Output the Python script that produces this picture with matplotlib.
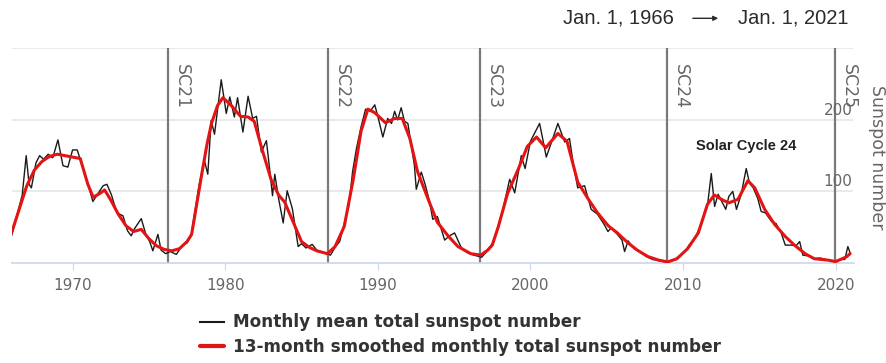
import matplotlib.pyplot as plt

# monthly mean total sunspot number
mean_years = [1966.0, 1966.4, 1966.7, 1966.96, 1967.15, 1967.3, 1967.6, 1967.84, 1968.1, 1968.4,
              1968.7, 1969.04, 1969.37, 1969.69, 1970.0, 1970.3, 1970.67, 1970.9, 1971.33, 1971.6,
              1972.0, 1972.25, 1972.55, 1972.9, 1973.3, 1973.6, 1973.84, 1974.06, 1974.5, 1974.8,
              1975.05, 1975.26, 1975.59, 1975.8, 1976.1, 1976.4, 1976.8, 1977.2, 1977.5, 1977.77,
              1978.0, 1978.3, 1978.64, 1978.86, 1979.08, 1979.3, 1979.74, 1980.07, 1980.3, 1980.6,
              1980.81, 1981.16, 1981.5, 1981.8, 1982.05, 1982.37, 1982.7, 1982.95, 1983.1, 1983.25,
              1983.5, 1983.8, 1984.06, 1984.4, 1984.78, 1985.0, 1985.3, 1985.7, 1986.0, 1986.4,
              1986.9, 1987.2, 1987.5, 1987.8, 1988.1, 1988.35, 1988.6, 1988.9, 1989.2, 1989.5,
              1989.8, 1990.0, 1990.33, 1990.65, 1990.9, 1991.1, 1991.3, 1991.53, 1991.75, 1991.97,
              1992.4, 1992.52, 1992.85, 1993.1, 1993.4, 1993.6, 1993.9, 1994.38, 1994.7, 1995.03,
              1995.5, 1995.9, 1996.3, 1996.8, 1997.1, 1997.5, 1997.8, 1998.2, 1998.64, 1998.97,
              1999.4, 1999.65, 2000.0, 2000.6, 2000.8, 2001.04, 2001.4, 2001.8, 2002.25, 2002.56,
              2002.8, 2003.1, 2003.55, 2003.98, 2004.4, 2004.8, 2005.08, 2005.3, 2005.7, 2006.0,
              2006.17, 2006.4, 2006.8, 2007.2, 2007.6, 2008.0, 2008.5, 2009.0, 2009.5, 2009.9,
              2010.2, 2010.4, 2010.8, 2011.2, 2011.6, 2011.85, 2012.07, 2012.3, 2012.8, 2013.0,
              2013.26, 2013.5, 2013.8, 2014.14, 2014.35, 2014.6, 2014.9, 2015.12, 2015.4, 2015.8,
              2016.1, 2016.43, 2016.7, 2017.1, 2017.4, 2017.64, 2017.85, 2018.2, 2018.6, 2019.0,
              2019.5, 2019.9, 2020.3, 2020.6, 2020.8, 2020.95]
mean_values = [38, 70, 95, 150, 110, 105, 140, 150, 145, 152,
               147, 172, 136, 134, 158, 158, 134, 118, 86, 95,
               108, 110, 95, 70, 66, 45, 38, 48, 62, 40,
               30, 17, 40, 18, 13, 16, 12, 25, 28, 38,
               70, 110, 143, 124, 199, 180, 256, 209, 232, 204,
               231, 183, 233, 202, 205, 155, 171, 124, 94, 124,
               90, 56, 101, 76, 23, 27, 21, 26, 18, 15,
               11, 22, 30, 55, 80, 128, 160, 190, 215, 212,
               221, 205, 176, 202, 195, 212, 200, 217, 198, 195,
               136, 103, 127, 110, 85, 61, 65, 32, 38, 42,
               20, 14, 11, 8, 15, 27, 45, 75, 117, 98,
               150, 132, 170, 195, 174, 148, 170, 195, 169, 174,
               140, 105, 108, 75, 68, 55, 44, 49, 40, 32,
               16, 31, 20, 15, 9, 5, 3, 1, 5, 12,
               18, 25, 35, 55, 80, 125, 79, 96, 75, 93,
               100, 75, 95, 132, 112, 105, 90, 72, 70, 58,
               55, 42, 25, 25, 24, 30, 11, 10, 6, 7,
               4, 2, 5, 5, 23, 14]

# 13-month smoothed monthly total sunspot number
smooth_years = [1966.0, 1966.5, 1967.0, 1967.5, 1968.0, 1968.5, 1969.0, 1969.5, 1970.0, 1970.5,
                1970.75, 1971.0, 1971.35, 1971.7, 1972.1, 1972.5, 1973.0, 1973.5, 1974.0, 1974.5,
                1975.0, 1975.5, 1976.0, 1976.5, 1977.0, 1977.5, 1977.8, 1978.0, 1978.43, 1978.8,
                1979.1, 1979.5, 1979.85, 1980.4, 1981.0, 1981.5, 1981.9, 1982.4, 1983.0, 1983.5,
                1983.9, 1984.4, 1985.0, 1985.5, 1986.0, 1986.7, 1987.2, 1987.8, 1988.4, 1988.9,
                1989.35, 1989.8, 1990.5, 1991.1, 1991.6, 1992.1, 1992.6, 1993.3, 1993.9, 1994.6,
                1995.25, 1996.1, 1996.75, 1997.2, 1997.5, 1997.9, 1998.5, 1999.2, 1999.8, 2000.4,
                2001.0, 2001.8, 2002.4, 2003.1, 2003.8, 2004.4, 2005.1, 2005.7, 2006.4, 2007.0,
                2007.7, 2008.4, 2009.0, 2009.6, 2010.3, 2011.0, 2011.6, 2012.05, 2012.6, 2013.0,
                2013.6, 2014.25, 2014.7, 2015.35, 2016.0, 2016.7, 2017.3, 2018.0, 2018.6, 2019.5,
                2020.0, 2020.7, 2020.95]
smooth_values = [42, 75, 108, 130, 142, 149, 152, 150, 148, 146,
                 128, 110, 92, 96, 102, 88, 68, 52, 44, 47,
                 34, 24, 19, 17, 20, 30, 40, 65, 120, 165,
                 195, 220, 231, 220, 205, 204, 198, 160, 117, 95,
                 85, 60, 30, 22, 17, 13, 23, 51, 118, 184,
                 215, 210, 196, 202, 202, 174, 128, 89, 57, 38,
                 23, 13, 11, 18, 25, 51, 97, 131, 163, 176,
                 161, 181, 170, 113, 89, 70, 52, 42, 28, 18,
                 9, 4, 1.5, 6, 20, 42, 82, 95, 88, 84,
                 89, 115, 105, 75, 54, 37, 25, 13, 6, 4,
                 2, 8.5, 13]

cycle_names = ["SC21", "SC22", "SC23", "SC24", "SC25"]
cycle_starts = [1976.22, 1986.72, 1996.70, 2008.96, 2019.96]
year_ticks = [1970, 1980, 1990, 2000, 2010, 2020]
value_ticks = [100, 200]

W, H = 887, 363
fig = plt.figure(figsize=(W / 100, H / 100), dpi=100)
ax = fig.add_axes([12 / W, 1 - 263 / H, (853.5 - 12) / W, (263 - 48.3) / H])
ax.set_xlim(1966.03, 2021.17)
ax.set_ylim(0, 300)

# grid
for v in [100, 200, 300]:
    ax.axhline(v, color='#e6e6e6', lw=1.2, zorder=0)
for s in ['top', 'right', 'left']:
    ax.spines[s].set_visible(False)
ax.spines['bottom'].set_color('#ccd6eb')
ax.spines['bottom'].set_linewidth(1.2)

ax.set_xticks(year_ticks)
ax.set_xticklabels([str(y) for y in year_ticks])
ax.tick_params(axis='x', colors='#ccd6eb', labelcolor='#666666', labelsize=11, length=5, pad=6)
ax.set_yticks([])

# y labels sit inside the plot just above gridlines
for v in value_ticks:
    ax.annotate(str(v), xy=(1, v), xycoords=ax.get_yaxis_transform(),
                xytext=(-1, 2), textcoords='offset pixels', ha='right', va='bottom',
                color='#666666', fontsize=11, zorder=5)

# cycle start lines
for name, x in zip(cycle_names, cycle_starts):
    ax.axvline(x, color='#7a7a7a', lw=1.6, zorder=2)
    ax.annotate(name, xy=(x, 300), xycoords='data', xytext=(5, -16), textcoords='offset pixels',
                rotation=270, ha='left', va='top', color='#666666', fontsize=12.5, zorder=5)

ax.plot(mean_years, mean_values, color='#1a1a1a', lw=1.0, zorder=3,
        label='Monthly mean total sunspot number')
ax.plot(smooth_years, smooth_values, color='#e41414', lw=2.2, zorder=4,
        solid_joinstyle='round', solid_capstyle='round',
        label='13-month smoothed monthly total sunspot number')

ax.text(2014.16, 163.5, 'Solar Cycle 24', ha='center', va='center', fontsize=10.5,
        fontweight='bold', family='Liberation Sans', color='#222222', zorder=5)

fig.text(877 / W, 1 - 157 / H, 'Sunspot number', rotation=270, ha='center', va='center',
         color='#666666', fontsize=12.5)

# date range header
fig.text(563 / W, 1 - 18.3 / H, 'Jan. 1, 1966', ha='left', va='center', fontsize=14.5,
         family='Liberation Sans', color='#2b2b2b')
fig.text(738 / W, 1 - 18.3 / H, 'Jan. 1, 2021', ha='left', va='center', fontsize=14.5,
         family='Liberation Sans', color='#2b2b2b')
fig.add_artist(plt.matplotlib.patches.FancyArrowPatch(
    (690 / W, 1 - 18.3 / H), (721 / W, 1 - 18.3 / H), transform=fig.transFigure,
    arrowstyle='-|>', mutation_scale=7, lw=1.0, color='#2b2b2b'))

leg = fig.legend(loc='upper left', bbox_to_anchor=(192 / W, 1 - 305 / H), frameon=False,
                 handlelength=1.4, handletextpad=0.5, labelspacing=0.4,
                 prop={'weight': 'bold', 'size': 12.2}, labelcolor='#333333', borderpad=0)
leg.get_lines()[0].set_linewidth(1.5)
leg.get_lines()[1].set_linewidth(3)

fig.savefig('out.png', dpi=100)
